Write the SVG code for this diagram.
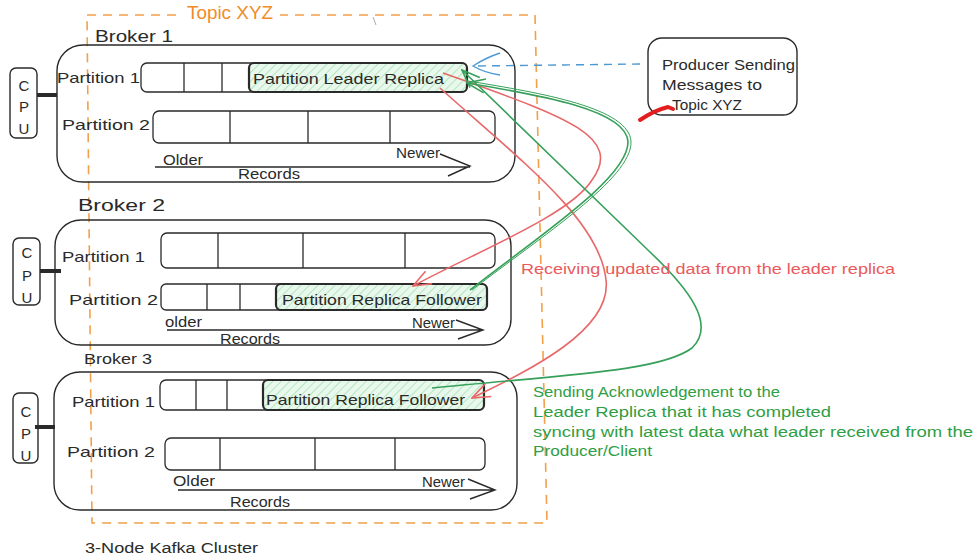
<svg xmlns="http://www.w3.org/2000/svg" width="977" height="560" viewBox="0 0 977 560">
<style>
text{font-family:"Liberation Sans","DejaVu Sans",sans-serif;fill:#2a2a2a;font-size:15px}
.box{fill:none;stroke:#2a2a2a;stroke-width:1.4}
.bar{fill:#fff;stroke:#2a2a2a;stroke-width:1.3}
.div{stroke:#2a2a2a;stroke-width:1.3}
.rep{fill:url(#hatch);stroke:#2a2a2a;stroke-width:2.2}
.cpu{fill:#fff;stroke:#2a2a2a;stroke-width:1.4}
.link{stroke:#2a2a2a;stroke-width:4}
.rec{fill:none;stroke:#2a2a2a;stroke-width:1.4}
.org{fill:none;stroke:#f2a04a;stroke-width:1.6;stroke-dasharray:9 7}
.red{fill:none;stroke:#e8686a;stroke-width:1.6}
.grn{fill:none;stroke:#37a05a;stroke-width:1.6}
.blu{fill:none;stroke:#4a98d4;stroke-width:1.4}
.rt{fill:#e85a5c;font-size:14px}
.gt{fill:#2f9e44;font-size:14px}
</style>
<defs>
<pattern id="hatch" width="6" height="6" patternUnits="userSpaceOnUse" patternTransform="rotate(45)">
<rect width="6" height="6" fill="#e9f8ec"/>
<line x1="0" y1="0" x2="0" y2="6" stroke="#b4e6bf" stroke-width="2"/>
</pattern>
<marker id="ar" viewBox="0 0 20 16" refX="19" refY="8" markerWidth="20" markerHeight="16" markerUnits="userSpaceOnUse" orient="auto">
<path d="M1,1 L19,8 L1,15" fill="none" stroke="#e8686a" stroke-width="1.6"/>
</marker>
<marker id="ag" viewBox="0 0 20 16" refX="19" refY="8" markerWidth="20" markerHeight="16" markerUnits="userSpaceOnUse" orient="auto">
<path d="M1,1 L19,8 L1,15" fill="none" stroke="#37a05a" stroke-width="1.6"/>
</marker>
</defs>
<rect width="977" height="560" fill="#fff"/>

<g id="topic">
<path class="org" d="M87,15 L535,15 L547,523 L92,523 Z"/>
<rect x="180" y="2" width="100" height="20" fill="#fff"/>
<text x="187" y="19" style="fill:#f08c2a;font-size:19px" textLength="86" lengthAdjust="spacingAndGlyphs">Topic XYZ</text>
<path d="M373,17 L376,25" stroke="#aaa" stroke-width="1"/>
</g>

<g id="broker1">
<text x="95" y="42" style="font-size:17px" textLength="78" lengthAdjust="spacingAndGlyphs">Broker 1</text>
<rect class="box" x="57" y="45" width="458" height="137" rx="26"/>
<rect class="cpu" x="10" y="68" width="27" height="70" rx="6"/>
<text x="24" y="91" text-anchor="middle">C</text>
<text x="24" y="112" text-anchor="middle">P</text>
<text x="24" y="134" text-anchor="middle">U</text>
<line class="link" x1="37" y1="95" x2="57" y2="95"/>
<text x="57" y="83" textLength="83" lengthAdjust="spacingAndGlyphs">Partition 1</text>
<rect class="bar" x="141" y="63" width="326" height="29" rx="6"/>
<line class="div" x1="184" y1="63" x2="184" y2="92"/>
<line class="div" x1="222" y1="63" x2="222" y2="92"/>
<rect class="rep" x="249" y="63" width="218" height="29" rx="5"/>
<text x="253" y="84" textLength="191" lengthAdjust="spacingAndGlyphs">Partition Leader Replica</text>
<text x="62" y="130" textLength="88" lengthAdjust="spacingAndGlyphs">Partition 2</text>
<rect class="bar" x="153" y="111" width="342" height="32" rx="6"/>
<line class="div" x1="230" y1="111" x2="230" y2="143"/>
<line class="div" x1="308" y1="111" x2="308" y2="143"/>
<line class="div" x1="390" y1="111" x2="390" y2="143"/>
<text x="163" y="165" textLength="40" lengthAdjust="spacingAndGlyphs">Older</text>
<text x="396" y="158" textLength="44" lengthAdjust="spacingAndGlyphs">Newer</text>
<path class="rec" d="M155,167 L470,167 M440,154 L470,166 L448,176"/>
<text x="238" y="179" textLength="62" lengthAdjust="spacingAndGlyphs">Records</text>
</g>

<g id="broker2">
<text x="78" y="211" style="font-size:17px" textLength="87" lengthAdjust="spacingAndGlyphs">Broker 2</text>
<rect class="box" x="55" y="220" width="456" height="125" rx="26"/>
<rect class="cpu" x="13" y="238" width="27" height="67" rx="6"/>
<text x="27" y="258" text-anchor="middle">C</text>
<text x="27" y="281" text-anchor="middle">P</text>
<text x="27" y="303" text-anchor="middle">U</text>
<line class="link" x1="40" y1="271" x2="61" y2="271"/>
<text x="62" y="262" textLength="83" lengthAdjust="spacingAndGlyphs">Partition 1</text>
<rect class="bar" x="161" y="233" width="334" height="35" rx="6"/>
<line class="div" x1="218" y1="233" x2="218" y2="268"/>
<line class="div" x1="303" y1="233" x2="303" y2="268"/>
<line class="div" x1="405" y1="233" x2="405" y2="268"/>
<text x="69" y="305" textLength="89" lengthAdjust="spacingAndGlyphs">Partition 2</text>
<rect class="bar" x="161" y="284" width="326" height="26" rx="5"/>
<line class="div" x1="207" y1="284" x2="207" y2="310"/>
<line class="div" x1="240" y1="284" x2="240" y2="310"/>
<rect class="rep" x="276" y="284" width="211" height="26" rx="5"/>
<text x="282" y="305" textLength="200" lengthAdjust="spacingAndGlyphs">Partition Replica Follower</text>
<text x="165" y="327" textLength="37" lengthAdjust="spacingAndGlyphs">older</text>
<text x="412" y="328" textLength="43" lengthAdjust="spacingAndGlyphs">Newer</text>
<path class="rec" d="M167,330 L483,330 M456,320 L483,330 L458,339"/>
<text x="220" y="344" textLength="60" lengthAdjust="spacingAndGlyphs">Records</text>
</g>

<g id="broker3">
<text x="84" y="364" style="font-size:14px" textLength="68" lengthAdjust="spacingAndGlyphs">Broker 3</text>
<rect class="box" x="54" y="372" width="463" height="138" rx="26"/>
<rect class="cpu" x="13" y="393" width="25" height="70" rx="6"/>
<text x="26" y="417" text-anchor="middle">C</text>
<text x="26" y="439" text-anchor="middle">P</text>
<text x="26" y="461" text-anchor="middle">U</text>
<line class="link" x1="35" y1="427" x2="55" y2="427"/>
<text x="72" y="407" textLength="83" lengthAdjust="spacingAndGlyphs">Partition 1</text>
<rect class="bar" x="160" y="380" width="324" height="30" rx="6"/>
<line class="div" x1="196" y1="380" x2="196" y2="410"/>
<line class="div" x1="227" y1="380" x2="227" y2="410"/>
<rect class="rep" x="263" y="380" width="221" height="30" rx="5"/>
<text x="266" y="405" textLength="199" lengthAdjust="spacingAndGlyphs">Partition Replica Follower</text>
<text x="67" y="457" textLength="88" lengthAdjust="spacingAndGlyphs">Partition 2</text>
<rect class="bar" x="165" y="438" width="320" height="32" rx="6"/>
<line class="div" x1="220" y1="438" x2="220" y2="470"/>
<line class="div" x1="315" y1="438" x2="315" y2="470"/>
<line class="div" x1="395" y1="438" x2="395" y2="470"/>
<text x="173" y="486" textLength="42" lengthAdjust="spacingAndGlyphs">Older</text>
<text x="422" y="487" textLength="43" lengthAdjust="spacingAndGlyphs">Newer</text>
<path class="rec" d="M178,490 L495,490 M468,479 L495,490 L470,499"/>
<text x="230" y="507" textLength="60" lengthAdjust="spacingAndGlyphs">Records</text>
</g>

<g id="producer">
<rect class="box" x="648" y="38" width="149" height="77" rx="14"/>
<text x="662" y="70" textLength="133" lengthAdjust="spacingAndGlyphs">Producer Sending</text>
<text x="662" y="90" textLength="100" lengthAdjust="spacingAndGlyphs">Messages to</text>
<text x="672" y="110" textLength="70" lengthAdjust="spacingAndGlyphs">Topic XYZ</text>
<path d="M640,120 Q655,110 668,107 L673,109" fill="none" stroke="#e41e1e" stroke-width="4" stroke-linecap="round"/>
</g>

<g id="cluster-label">
<text x="85" y="553" style="font-size:14px" textLength="173" lengthAdjust="spacingAndGlyphs">3-Node Kafka Cluster</text>
</g>

<g id="connectors">
<path class="blu" d="M640,64 L476,66" stroke-dasharray="8 6"/>
<path class="blu" d="M500,53 Q485,58 473,66 Q485,73 500,75"/>
<path class="red" d="M443,73 C560,115 625,135 592,180 C570,215 480,250 413,286" marker-end="url(#ar)"/>
<path class="red" d="M440,88 C520,160 600,220 606,280 C612,330 530,370 472,398" marker-end="url(#ar)"/>
<path class="grn" d="M470,290 C540,235 628,178 628,142 C627,110 540,95 467,83" marker-end="url(#ag)"/>
<path class="grn" d="M472,290 C542,236 632,178 631,142 C630,108 542,93 468,81" style="stroke-width:1"/>
<path class="grn" d="M432,388 C560,375 660,372 692,348 C716,325 690,290 650,252 L462,70" marker-end="url(#ag)"/>
</g>

<g id="labels">
<text class="rt" x="521" y="274" textLength="374" lengthAdjust="spacingAndGlyphs">Receiving updated data from the leader replica</text>
<text class="gt" x="533" y="397" textLength="247" lengthAdjust="spacingAndGlyphs">Sending Acknowledgement to the</text>
<text class="gt" x="533" y="417" textLength="298" lengthAdjust="spacingAndGlyphs">Leader Replica that it has completed</text>
<text class="gt" x="533" y="437" textLength="440" lengthAdjust="spacingAndGlyphs">syncing with latest data what leader received from the</text>
<text class="gt" x="533" y="456" textLength="119" lengthAdjust="spacingAndGlyphs">Producer/Client</text>
</g>
</svg>
